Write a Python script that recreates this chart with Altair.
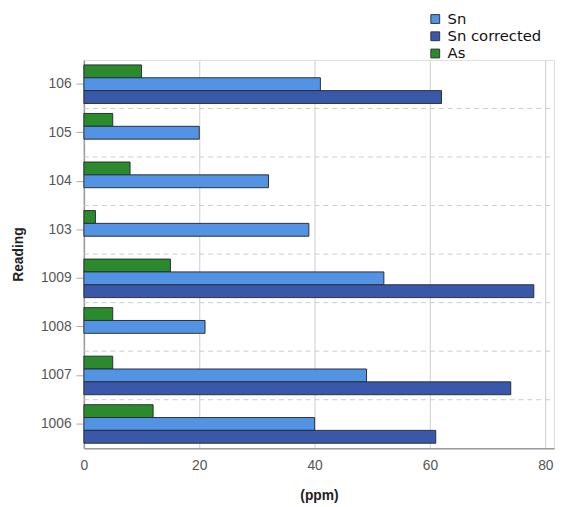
import altair as alt
import pandas as pd

readings = ["106", "105", "104", "103", "1009", "1008", "1007", "1006"]
as_vals = [10, 5, 8, 2, 15, 5, 5, 12]
sn_vals = [41, 20, 32, 39, 52, 21, 49, 40]
sn_corr_vals = [62, None, None, None, 78, None, 74, 61]

series_legend = ["Sn", "Sn corrected", "As"]
series_bar_order = ["As", "Sn", "Sn corrected"]
colors = ["#5393e3", "#3a58a9", "#2b8a2b"]

rows = []
for r, a, s, c in zip(readings, as_vals, sn_vals, sn_corr_vals):
    rows.append({"Reading": r, "series": "As", "value": a})
    rows.append({"Reading": r, "series": "Sn", "value": s})
    if c is not None:
        rows.append({"Reading": r, "series": "Sn corrected", "value": c})
df = pd.DataFrame(rows)
sep_df = pd.DataFrame({"Reading": readings[1:]})

W, H = 477, 394
yscale = alt.Scale(domain=readings, paddingInner=0, paddingOuter=0)

bars = alt.Chart(df).mark_bar(stroke="#2b2f3a", strokeWidth=1).encode(
    x=alt.X("value:Q", title="(ppm)",
            scale=alt.Scale(domain=[0, 81.5], nice=False, zero=True),
            axis=alt.Axis(values=[0, 20, 40, 60, 80], grid=True, ticks=False,
                          gridColor="#d6d6d6", gridWidth=1.2, labelFlush=False,
                          domainColor="#9a9a9a", domainWidth=1.5,
                          labelFontSize=14, labelColor="#555555", labelPadding=11,
                          labelFont="Liberation Sans",
                          titleFontSize=14, titleFont="Liberation Sans",
                          titleFontWeight="bold", titlePadding=16, titleColor="#222222")),
    y=alt.Y("Reading:N", sort=readings, title="Reading", scale=yscale,
            axis=alt.Axis(grid=False, ticks=True, tickColor="#aaaaaa", tickSize=8,
                          domainColor="#9a9a9a", domainWidth=1.5,
                          labelFontSize=14, labelColor="#555555", labelPadding=5,
                          labelFont="Liberation Sans",
                          titleFontSize=14, titleFont="Liberation Sans",
                          titleFontWeight="bold", titlePadding=15, titleColor="#222222")),
    yOffset=alt.YOffset("series:N", sort=series_bar_order,
                        scale=alt.Scale(domain=series_bar_order, paddingInner=0, paddingOuter=0.39)),
    color=alt.Color("series:N",
                    scale=alt.Scale(domain=series_legend, range=colors),
                    legend=alt.Legend(title=None, orient="none", legendX=349, legendY=-49,
                                      labelFontSize=15, labelFont="DejaVu Sans",
                                      labelColor="#111111",
                                      symbolType="square", symbolSize=80,
                                      symbolStrokeColor="#333333", symbolStrokeWidth=1,
                                      rowPadding=1.5, labelOffset=5)),
)

seps = alt.Chart(sep_df).mark_rule(color="#cccccc", strokeDash=[5, 4], strokeWidth=1).encode(
    y=alt.Y("Reading:N", sort=readings, bandPosition=0, scale=yscale),
    x=alt.value(0),
    x2=alt.value(W),
)

chart = alt.layer(seps, bars).properties(
    width=W, height=H,
    padding={"left": 3, "top": 0, "right": 0, "bottom": 5},
).configure_view(stroke=None).configure(background="white")

chart.save("out.html", embed_options={"renderer": "svg", "actions": False})
